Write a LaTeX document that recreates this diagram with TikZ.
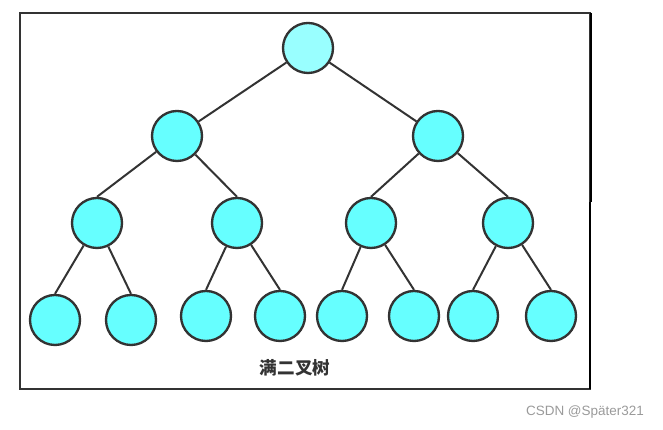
\documentclass[tikz,border=0pt]{standalone}
\usepackage{fontspec}
\newfontfamily\cjk{Noto Sans CJK SC}
\newfontfamily\wmfont{Liberation Sans}
\usetikzlibrary{positioning}
\definecolor{nodecyan}{HTML}{66FFFF}
\definecolor{rootcyan}{HTML}{99FFFF}
\definecolor{dkgray}{HTML}{333333}
\definecolor{wmgray}{HTML}{9A9A9A}

\begin{document}
\begin{tikzpicture}[
  x=0.03cm, y=-0.03cm,
  treenode/.style={
    circle, draw=dkgray, line width=2pt, fill=#1,
    minimum size=1.5cm, inner sep=0pt
  },
  treenode/.default=nodecyan,
  edge/.style={line width=1.7pt, dkgray},
  frame/.style={line width=1.8pt, dkgray},
]

% Canvas
\useasboundingbox (0,0) rectangle (663,430);

% Frame
\draw[frame] (20,13) rectangle (590,389);
\draw[line width=2.4pt, black] (591,13) -- (591,202);
\draw[line width=2.4pt, black] (590,202) -- (590,389);

% =============================================
% Tree nodes
% =============================================
\node[treenode=rootcyan] (root) at (308,48) {};

% Level 1
\node[treenode] (a) at (177,136) {};
\node[treenode] (b) at (438,136) {};

% Level 2
\node[treenode] (aa) at (97,223) {};
\node[treenode] (ab) at (237,223) {};
\node[treenode] (ba) at (371,223) {};
\node[treenode] (bb) at (508,223) {};

% Leaves
\node[treenode] (aaa) at (55,320) {};
\node[treenode] (aab) at (131,320) {};
\node[treenode] (aba) at (206,316) {};
\node[treenode] (abb) at (280,316) {};
\node[treenode] (baa) at (342,316) {};
\node[treenode] (bab) at (414,316) {};
\node[treenode] (bba) at (473,316) {};
\node[treenode] (bbb) at (551,316) {};

% =============================================
% Edges
% =============================================
\draw[edge] (root) -- (a);
\draw[edge] (root) -- (b);
\draw[edge] (a) -- (aa.north);
\draw[edge] (a) -- (ab.north);
\draw[edge] (b) -- (ba.north);
\draw[edge] (b) -- (bb.north);
\draw[edge] (aa) -- (aaa.north);
\draw[edge] (aa) -- (aab.north);
\draw[edge] (ab) -- (aba.north);
\draw[edge] (ab) -- (abb.north);
\draw[edge] (ba) -- (baa.north);
\draw[edge] (ba) -- (bab.north);
\draw[edge] (bb) -- (bba.north);
\draw[edge] (bb) -- (bbb.north);

% Caption
\node[font=\cjk\bfseries\fontsize{15}{18}\selectfont, text=dkgray] (caption) at (295,368) {满二叉树};

% Watermark
\node[font=\wmfont\fontsize{11.5}{14}\selectfont, text=wmgray, anchor=east] (mark) at (648,412) {CSDN @Später321};

\end{tikzpicture}
\end{document}
